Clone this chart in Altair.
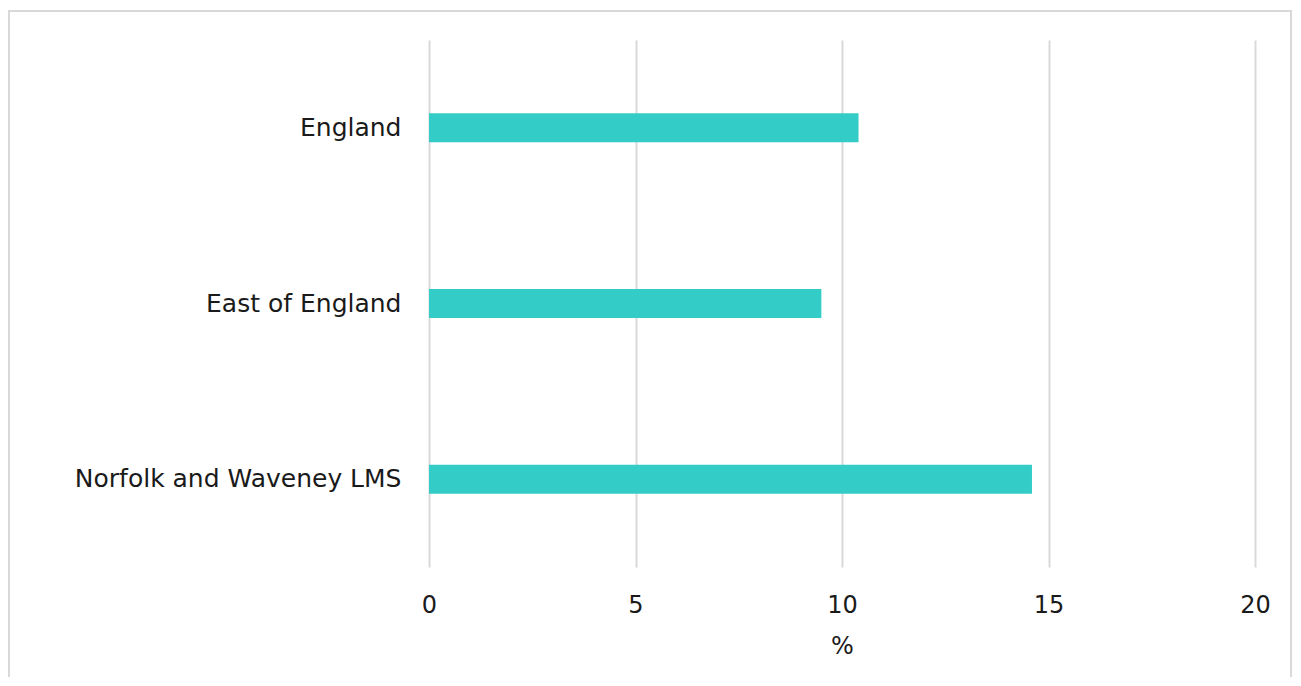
import altair as alt
import pandas as pd

categories = ["England", "East of England", "Norfolk and Waveney LMS"]
values = [10.4, 9.5, 14.6]
x_ticks = [0, 5, 10, 15, 20]

df = pd.DataFrame({"area": categories, "pct": values})

FONT = "DejaVu Sans"
GRID = "#d9d9d9"
TEXT = "#1a1a1a"

bars = alt.Chart(df).mark_bar(color="#33CCC7", size=29).encode(
    x=alt.X("pct:Q", title="%",
            scale=alt.Scale(domain=[0, 20], nice=False),
            axis=alt.Axis(values=x_ticks, grid=True, gridColor=GRID, gridWidth=2,
                          domain=False, ticks=False, labelPadding=26, labelFlush=False,
                          labelFontSize=24, labelColor=TEXT, labelFont=FONT,
                          titleFontSize=24, titleFont=FONT, titleColor=TEXT,
                          titleFontWeight="normal", titlePadding=17)),
    y=alt.Y("area:N", sort=categories, title=None,
            axis=alt.Axis(domain=False, ticks=False, grid=False, labelPadding=28,
                          labelFontSize=25, labelColor=TEXT, labelFont=FONT,
                          labelLimit=500)),
)

border = alt.Chart(pd.DataFrame({"a": [0]})).mark_rect(
    fill="transparent", stroke=GRID, strokeWidth=2
).encode(
    x=alt.value(-420), x2=alt.value(862),
    y=alt.value(-29), y2=alt.value(700),
)

chart = alt.layer(border, bars).properties(
    width=826, height=527,
    background="white",
    padding={"left": 421, "top": 32, "right": 37, "bottom": 110},
    autosize=alt.AutoSizeParams(type="none"),
).configure_view(stroke="transparent", strokeWidth=0)

chart.save("out.html", embed_options={"renderer": "svg", "actions": False})
